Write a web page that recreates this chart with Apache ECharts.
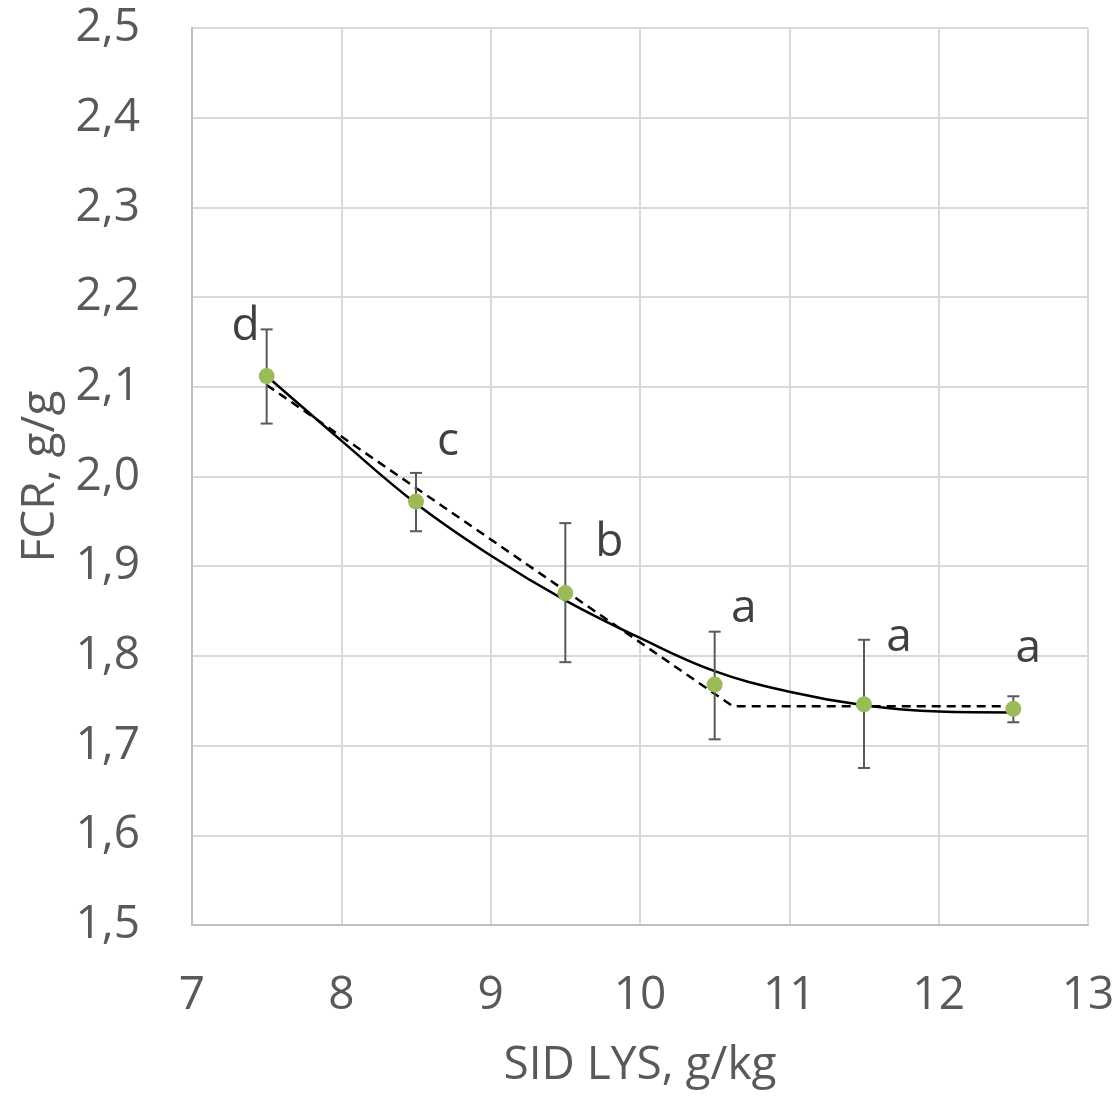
<!DOCTYPE html>
<html>
<head>
<meta charset="utf-8">
<script src="https://cdn.jsdelivr.net/npm/echarts@6/dist/echarts.min.js"></script>
<style>
html,body{margin:0;padding:0;background:#fff;}
#chart{width:1119px;height:1096px;}
</style>
</head>
<body>
<div id="chart"></div>
<script>
// Observed means
var lysLevels = [7.5, 8.5, 9.5, 10.5, 11.5, 12.5];
var fcrMeans = [2.112, 1.972, 1.870, 1.768, 1.746, 1.741];
var errLow = [2.059, 1.939, 1.793, 1.707, 1.675, 1.726];
var errHigh = [2.164, 2.004, 1.948, 1.827, 1.818, 1.755];
var letters = ['d', 'c', 'b', 'a', 'a', 'a'];

// Quadratic fit curve
var curveX = [7.5, 8.0, 8.5, 9.0, 9.5, 10.0, 10.5, 11.0, 11.5, 12.0, 12.5];
var curveY = [2.112, 2.040, 1.970, 1.912, 1.862, 1.820, 1.783, 1.760, 1.745, 1.738, 1.737];

// Broken-line fit
var brokenX = [7.5, 10.62, 12.5];
var brokenY = [2.102, 1.744, 1.744];

var xTicks = [7, 8, 9, 10, 11, 12, 13];

var labelOffsets = [[-21, -49], [32, -60], [44, -50], [29, -76], [35, -66], [15, -60]];

var FONT = '"Open Sans", "Noto Sans", sans-serif';
var TXT = '#595959';

var chart = echarts.init(document.getElementById('chart'), null, {renderer: 'canvas'});

function zip(a, b) { return a.map(function (v, i) { return [v, b[i]]; }); }

var option = {
  animation: false,
  backgroundColor: '#fff',
  grid: {left: 192, right: 31, top: 28, bottom: 171, containLabel: false, outerBoundsMode: 'none'},
  xAxis: {
    type: 'value', min: xTicks[0], max: xTicks[xTicks.length - 1], interval: 1,
    name: 'SID LYS, g/kg', nameLocation: 'middle', nameGap: 118,
    nameTextStyle: {fontFamily: FONT, fontSize: 46, color: TXT},
    axisLine: {show: true, lineStyle: {color: '#bfbfbf', width: 2}},
    axisTick: {show: false},
    axisLabel: {fontFamily: FONT, fontSize: 46, color: TXT, margin: 48},
    splitLine: {show: true, lineStyle: {color: '#d9d9d9', width: 2}}
  },
  yAxis: {
    type: 'value', min: 1.5, max: 2.5, interval: 0.1,
    name: 'FCR, g/g', nameLocation: 'middle', nameGap: 128, nameRotate: 90,
    nameTextStyle: {fontFamily: FONT, fontSize: 46, color: TXT},
    axisLine: {show: true, lineStyle: {color: '#bfbfbf', width: 2}},
    axisTick: {show: false},
    axisLabel: {fontFamily: FONT, fontSize: 46, color: TXT, margin: 52,
      formatter: function (v) { return v.toFixed(1).replace('.', ','); }},
    splitLine: {show: true, lineStyle: {color: '#d9d9d9', width: 2}}
  },
  series: [
    {
      type: 'line', data: zip(brokenX, brokenY), symbol: 'none', z: 3,
      lineStyle: {color: '#000', width: 2.5, type: [9, 6]}
    },
    {
      type: 'line', data: zip(curveX, curveY), symbol: 'none', smooth: 0.4, z: 3,
      lineStyle: {color: '#000', width: 2.5}
    },
    {
      type: 'custom', z: 4,
      data: lysLevels.map(function (x, i) { return [x, errLow[i], errHigh[i]]; }),
      renderItem: function (params, api) {
        var lo = api.coord([api.value(0), api.value(1)]);
        var hi = api.coord([api.value(0), api.value(2)]);
        var c = 6;
        var st = {stroke: '#595959', lineWidth: 2};
        return {type: 'group', children: [
          {type: 'line', shape: {x1: lo[0], y1: lo[1], x2: hi[0], y2: hi[1]}, style: st},
          {type: 'line', shape: {x1: lo[0] - c, y1: lo[1], x2: lo[0] + c, y2: lo[1]}, style: st},
          {type: 'line', shape: {x1: hi[0] - c, y1: hi[1], x2: hi[0] + c, y2: hi[1]}, style: st}
        ]};
      }
    },
    {
      type: 'scatter', z: 5, symbol: 'circle', symbolSize: 16,
      itemStyle: {color: '#9BBB59', opacity: 1},
      data: lysLevels.map(function (x, i) {
        return {
          value: [x, fcrMeans[i]],
          label: {
            show: true, formatter: letters[i], position: 'inside',
            offset: labelOffsets[i], fontFamily: FONT, fontSize: 46, color: '#404040'
          }
        };
      })
    }
  ]
};
chart.setOption(option);
</script>
</body>
</html>
